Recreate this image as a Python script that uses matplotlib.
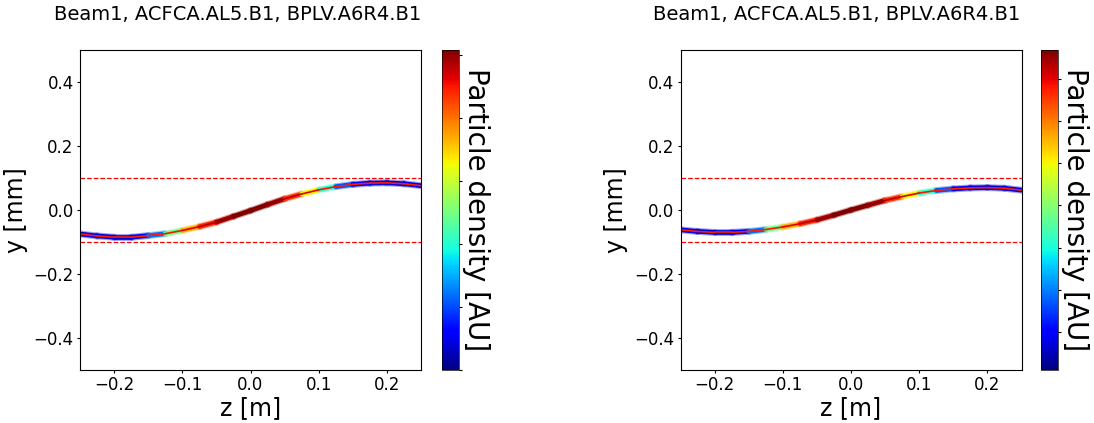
import numpy as np
import matplotlib
matplotlib.use("Agg")
import matplotlib.pyplot as plt
from matplotlib.collections import LineCollection
from matplotlib.colors import Normalize
from matplotlib.cm import ScalarMappable

# Beam centroid (z in m, y in mm)
z_pts = [-0.25, -0.225, -0.2, -0.175, -0.15, -0.125, -0.1, -0.075, -0.05, -0.025, 0.0,
         0.025, 0.05, 0.075, 0.1, 0.125, 0.15, 0.175, 0.2, 0.225, 0.25]

y_left = [-0.075, -0.081, -0.085, -0.085, -0.080, -0.074, -0.064, -0.052, -0.038, -0.020, -0.002,
          0.017, 0.035, 0.050, 0.063, 0.073, 0.080, 0.084, 0.085, 0.082, 0.076]

y_right = [-0.062, -0.067, -0.070, -0.070, -0.067, -0.061, -0.053, -0.043, -0.031, -0.016, 0.0,
           0.015, 0.030, 0.042, 0.053, 0.061, 0.066, 0.069, 0.070, 0.068, 0.062]

# particle density (fraction of colour scale) at the edge and in the core of the band
edge_density = [0.10, 0.08, 0.08, 0.08, 0.12, 0.35, 0.62, 0.82, 0.92, 1.00, 1.00,
                1.00, 0.93, 0.78, 0.52, 0.30, 0.12, 0.09, 0.08, 0.08, 0.10]
core_density = [0.88, 0.88, 0.88, 0.88, 0.88, 0.88, 0.90, 0.93, 0.97, 1.00, 1.00,
                1.00, 0.97, 0.93, 0.90, 0.88, 0.88, 0.88, 0.88, 0.88, 0.88]

limits = [0.1, -0.1]
title = "Beam1, ACFCA.AL5.B1, BPLV.A6R4.B1"

# colour bar ranges and (unlabelled) ticks of each panel
cbar_left = (0.0, 1.016)
ticks_left = [0.0, 0.2, 0.4, 0.6, 0.8, 1.0]
cbar_right = (0.095, 7.69)
ticks_right = [1, 2, 3, 4, 5, 6, 7]

cmap = plt.get_cmap("jet")

W, H = 1094, 423
fig = plt.figure(figsize=(W / 100, H / 100), dpi=100)


def seg_colors(vals):
    v = np.asarray(vals)
    return cmap((v[:-1] + v[1:]) / 2)


def draw_panel(ax_left_px, cb_left_px, title_x_px, y_pts, crange, cticks):
    ax = fig.add_axes([ax_left_px / W, 53 / H, 341 / W, 320 / H])
    cax = fig.add_axes([cb_left_px / W, 53 / H, 17 / W, 320 / H])

    pts = np.column_stack([z_pts, y_pts]).reshape(-1, 1, 2)
    segs = np.concatenate([pts[:-1], pts[1:]], axis=1)

    halo = LineCollection(segs, colors=seg_colors(edge_density), linewidths=5.0,
                          alpha=0.35, capstyle="round")
    edge = LineCollection(segs, colors=seg_colors(edge_density), linewidths=3.4,
                          capstyle="round")
    core = LineCollection(segs, colors=seg_colors(core_density), linewidths=1.2,
                          capstyle="round")
    for lc in (halo, edge, core):
        ax.add_collection(lc)

    for lim in limits:
        ax.axhline(lim, color="red", linestyle="--", linewidth=0.9)

    ax.set_xlim(-0.25, 0.25)
    ax.set_ylim(-0.5, 0.5)
    ax.set_xticks([-0.2, -0.1, 0.0, 0.1, 0.2])
    ax.set_yticks([-0.4, -0.2, 0.0, 0.2, 0.4])
    ax.tick_params(labelsize=12, length=2.5, pad=2)
    ax.set_xlabel("z [m]", fontsize=17, labelpad=1)
    ax.set_ylabel("y [mm]", fontsize=17)

    fig.text(title_x_px / W, 1 - 14 / H, title, fontsize=14, ha="center", va="center")

    sm = ScalarMappable(norm=Normalize(*crange), cmap=cmap)
    cb = fig.colorbar(sm, cax=cax, ticks=cticks)
    cb.ax.set_yticklabels([])
    cb.ax.tick_params(length=2.5)
    cb.outline.set_linewidth(0.5)
    cb.set_label("Particle density [AU]", fontsize=20, rotation=270, labelpad=16)
    return ax


draw_panel(80, 442, 238, y_left, cbar_left, ticks_left)
draw_panel(680.5, 1041, 837, y_right, cbar_right, ticks_right)

fig.savefig("out.png", dpi=100)
